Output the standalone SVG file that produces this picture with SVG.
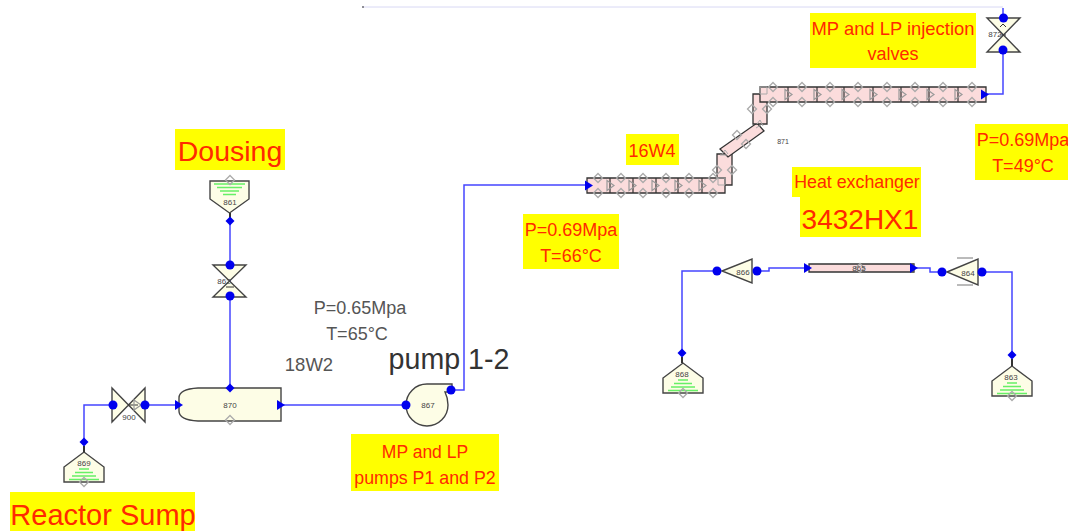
<svg xmlns="http://www.w3.org/2000/svg" width="1068" height="531" viewBox="0 0 1068 531">
<style>
text{font-family:"Liberation Sans",Arial,sans-serif;text-anchor:middle}
.r{fill:#ff2a00}.y{fill:#ffff00}
.d{fill:#555}
.n{font-size:8px;fill:#444}
.c{fill:none;stroke:#4646ff;stroke-width:1.5}
.s{fill:#fdfde6;stroke:#444;stroke-width:1.4}
.p{fill:#fbdcdc;stroke:#333;stroke-width:1.3}
.g{fill:none;stroke:#aaa;stroke-width:1}
.w{stroke:#66f066;stroke-width:1.4}
.k{stroke:#333;stroke-width:2;fill:none}
</style>
<defs>
<circle id="dot" r="4.500" fill="#0000ee"/>
<path id="bd" d="M0-4.500 4.500 0 0 4.500-4.500 0Z" fill="#0000ee"/>
<path id="gd" d="M0-4.500 4.500 0 0 4.500-4.500 0Z" fill="none" stroke="#aaa" stroke-width="1.300"/>
<path id="gt" d="M-3-5 4 0-3 5Z" fill="none" stroke="#999" stroke-width="1.200"/>
<path id="ar" d="M0-5 8 0 0 5Z" fill="#0000ee"/>
<g id="seg"><use href="#gd" y="-7.500"/><use href="#gd" y="7.500"/></g>
<g id="tk"><path class="s" d="M-20 20V5L0-10 20 5V20Z"/><path class="w" d="M-5 7H5M-9 10.500H9M-12 14H12M-15 17.500H15"/></g>
</defs>
<path d="M362 7H1003" stroke="#d8d8f4" fill="none"/>
<path d="M363 6v2" stroke="#333"/>
<g id="connectors">
<path class="c" d="M84 441V405H113"/>
<path class="c" d="M145 405H176"/>
<path class="c" d="M281 405H406"/>
<path class="c" d="M230 221V388"/>
<path class="c" d="M451 390H464V185H587"/>
<path class="c" d="M986 94H1003V8"/>
<path class="c" d="M682 353V271H717"/>
<path class="c" d="M757 271H769V268H805"/>
<path class="c" d="M914 268H930V272H942"/>
<path class="c" d="M982 272H1012V355"/>
</g>
<g id="n869"><use href="#tk" x="84" y="462"/><path class="k" d="M84 446V452"/><text class="n" x="84" y="466">869</text><use href="#gd" x="84" y="482"/><use href="#bd" x="84" y="442"/></g>
<g id="n900"><path class="s" d="M112 388 145 422V388L112 422Z"/><path d="M128 405h10" stroke="#333"/><use href="#gt" x="137" y="405"/><text class="n" x="129" y="420">900</text><use href="#dot" x="113" y="405"/><use href="#dot" x="145" y="405"/></g>
<g id="n870"><path class="s" d="M281 388H198Q179 389 179 398V411Q179 420 198 421H281Z"/><text class="n" x="230" y="408">870</text><use href="#gd" x="230" y="420"/><use href="#bd" x="230" y="388"/><use href="#ar" x="175" y="405"/><use href="#ar" x="277" y="405"/></g>
<g id="n861"><path class="s" d="M210 181H249V199L229.500 213 210 199Z"/><path class="w" d="M214 184H245M217 187.500H242M220 191H239M223 194.500H236"/><path class="k" d="M230 213V218"/><text class="n" x="230" y="205">861</text><use href="#gd" x="230" y="180"/><use href="#bd" x="230" y="221"/></g>
<g id="n862"><path class="s" d="M213 265H246L213 297H246Z"/><text class="n" x="224" y="284">862</text><path d="M226 287h8" stroke="#333"/><use href="#dot" x="230" y="265"/><use href="#dot" x="230" y="296"/></g>
<g id="n867"><path class="s" d="M452 384H427A21 21 0 1 0 448 405Q448 398 445 392H452Z"/><text class="n" x="428" y="408">867</text><use href="#dot" x="406" y="405"/><use href="#dot" x="451" y="390"/></g>
<g id="n871">
<path class="p" d="M717 154H732V185H717Z"/>
<path class="p" d="M720 149 757 123 764 131 728 157Z"/>
<path class="p" d="M753 94H767V124H753Z"/>
<path class="p" d="M587 178H725V193H587Z"/>
<path class="p" d="M760 87H986V102H760Z"/>
<path fill="none" stroke="#333" stroke-width="1.200" d="M610 178v15M633 178v15M656 178v15M678 178v15M702 178v15M788 87v15M817 87v15M844 87v15M873 87v15M901 87v15M929 87v15M958 87v15"/>
<g>
<use href="#seg" x="598" y="185.500"/><use href="#seg" x="621" y="185.500"/><use href="#seg" x="643" y="185.500"/><use href="#seg" x="666" y="185.500"/><use href="#seg" x="689" y="185.500"/><use href="#seg" x="713" y="185.500"/>
<use href="#seg" x="773" y="94.500"/><use href="#seg" x="802" y="94.500"/><use href="#seg" x="830" y="94.500"/><use href="#seg" x="858" y="94.500"/><use href="#seg" x="887" y="94.500"/><use href="#seg" x="915" y="94.500"/><use href="#seg" x="943" y="94.500"/><use href="#seg" x="972" y="94.500"/>
<use href="#gd" x="717" y="170"/><use href="#gd" x="732" y="170"/><use href="#gd" x="752" y="109"/><use href="#gd" x="767" y="109"/><use href="#gd" x="737" y="135"/><use href="#gd" x="746" y="144"/>
<use href="#gt" x="610" y="185.500"/><use href="#gt" x="632" y="185.500"/><use href="#gt" x="655" y="185.500"/><use href="#gt" x="678" y="185.500"/><use href="#gt" x="702" y="185.500"/>
<use href="#gt" x="788" y="94.500"/><use href="#gt" x="817" y="94.500"/><use href="#gt" x="845" y="94.500"/><use href="#gt" x="873" y="94.500"/><use href="#gt" x="902" y="94.500"/><use href="#gt" x="930" y="94.500"/><use href="#gt" x="958" y="94.500"/>
<path class="g" d="M718 178h7v7h-7zM760 94h7v-7h-7zM756 128l5-3M720 155h7M722 154l3-4 3 4M757 124l3-4 3 6"/>
</g>
<use href="#ar" x="981" y="94.500"/><use href="#ar" x="585" y="185.500"/>
<text class="n" x="783" y="144" style="font-size:7px">871</text></g>
<g id="n872"><path class="s" d="M987 18H1020L987 52H1020Z"/><text class="n" x="995" y="37">872</text><path d="M1000 27l3-3 3 3M1000 35h6" stroke="#333" fill="none"/><use href="#dot" x="1003.500" y="18"/><use href="#dot" x="1003" y="50"/></g>
<g id="n868"><use href="#tk" x="683" y="373"/><path class="k" d="M682 357V363"/><text class="n" x="682" y="377">868</text><use href="#gd" x="683" y="393"/><use href="#bd" x="682" y="353"/></g>
<g id="n866"><path class="s" d="M722 271 752 259V283Z"/><text class="n" x="743" y="275">866</text><use href="#dot" x="717" y="271"/><use href="#dot" x="757" y="271"/></g>
<g id="n865"><path class="p" d="M809 264H914V272H809Z"/><path d="M910 264h4v8h-4z" fill="#555"/><use href="#gd" x="860" y="268"/><text class="n" x="859" y="271">865</text><use href="#ar" x="804" y="268"/><use href="#ar" x="910" y="268"/></g>
<g id="n864"><path class="s" d="M947 272 978 259V285Z"/><path d="M957 258h16M957 285h16" stroke="#777" fill="none"/><text class="n" x="968" y="276">864</text><use href="#dot" x="942" y="272"/><use href="#dot" x="982" y="272"/></g>
<g id="n863"><use href="#tk" x="1012" y="376"/><path class="k" d="M1012 359V366"/><text class="n" x="1011" y="380">863</text><use href="#gd" x="1012" y="396"/><use href="#bd" x="1012" y="355"/></g>
<g id="labels">
<rect class="y" x="175" y="129" width="110" height="41"/><text class="r" x="230" y="161" font-size="28.500">Dousing</text>
<rect class="y" x="10" y="492" width="185" height="39"/><text class="r" x="103" y="525" font-size="29">Reactor Sump</text>
<rect class="y" x="351" y="434" width="148" height="57"/><text class="r" x="425" y="458" font-size="17.500">MP and LP</text><text class="r" x="425" y="484" font-size="17.800">pumps P1 and P2</text>
<rect class="y" x="523" y="214" width="96" height="55"/><text class="r" x="571" y="236" font-size="18">P=0.69Mpa</text><text class="r" x="571" y="262" font-size="18">T=66°C</text>
<rect class="y" x="626" y="134" width="53" height="31"/><text class="r" x="652" y="157" font-size="18">16W4</text>
<rect class="y" x="792" y="167" width="129" height="30"/><text class="r" x="857" y="188" font-size="17.800">Heat exchanger</text>
<rect class="y" x="800" y="197" width="121" height="40"/><text class="r" x="860" y="229" font-size="28">3432HX1</text>
<rect class="y" x="810" y="13" width="166" height="55"/><text class="r" x="893" y="35" font-size="18.400">MP and LP injection</text><text class="r" x="893" y="60" font-size="18">valves</text>
<rect class="y" x="975" y="124" width="93" height="56"/><text class="r" x="1023" y="146" font-size="18">P=0.69Mpa</text><text class="r" x="1023" y="172" font-size="18">T=49°C</text>
<text class="d" x="360" y="314" font-size="18">P=0.65Mpa</text><text class="d" x="357" y="340" font-size="18">T=65°C</text>
<text class="d" x="309" y="371" font-size="18.500">18W2</text>
<text x="449" y="369" font-size="28.600" fill="#333">pump 1-2</text>
</g>
</svg>
